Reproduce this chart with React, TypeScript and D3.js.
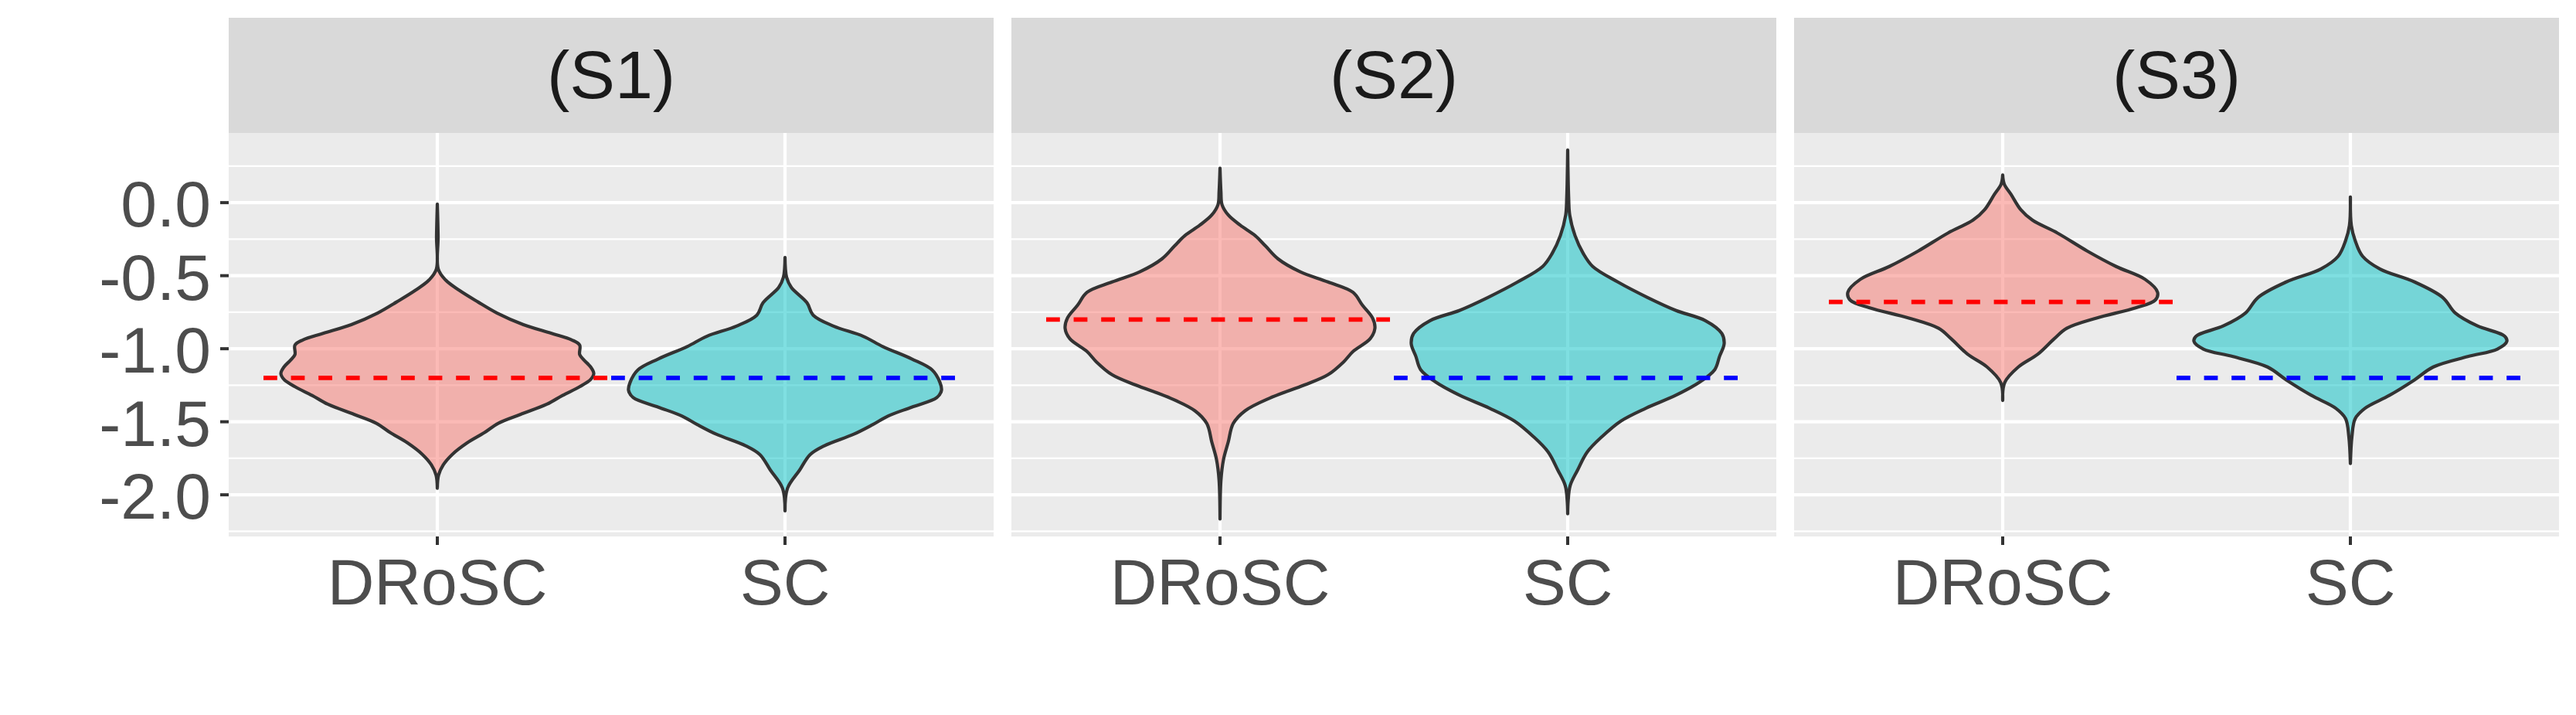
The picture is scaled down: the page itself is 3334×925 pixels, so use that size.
import React from "react";
import * as d3 from "d3";

// ---------- data ----------
const panels = ["(S1)", "(S2)", "(S3)"];
const methods = ["DRoSC", "SC"];
const yTicks = [0, -0.5, -1, -1.5, -2];
const yMinorTicks = [0.25, -0.25, -0.75, -1.25, -1.75, -2.25];
const yLimits = [-2.285, 0.477];

// reference (dashed) levels per panel
const droscRef = [-1.2, -0.8, -0.68];
const scRef = [-1.2, -1.2, -1.2];

// violin profiles: y values and relative half-widths (density scaled to max 1)
const s1DroscY = [-0.01, -0.23, -0.455, -0.53, -0.6, -0.68, -0.755, -0.835, -0.895, -0.94, -0.975, -1.04, -1.08, -1.125, -1.17, -1.21, -1.26, -1.32, -1.38, -1.45, -1.51, -1.575, -1.645, -1.725, -1.795, -1.865, -1.955];
const s1DroscW = [0, 0.005, 0.006, 0.053, 0.14, 0.26, 0.38, 0.55, 0.73, 0.86, 0.91, 0.91, 0.94, 0.98, 1.0, 0.98, 0.91, 0.8, 0.7, 0.53, 0.39, 0.3, 0.19, 0.094, 0.038, 0.008, 0];
const s1ScY = [-0.375, -0.51, -0.58, -0.685, -0.77, -0.845, -0.915, -0.985, -1.07, -1.145, -1.23, -1.285, -1.335, -1.4, -1.46, -1.52, -1.585, -1.665, -1.725, -1.83, -1.955, -2.11];
const s1ScW = [0, 0.01, 0.04, 0.14, 0.18, 0.31, 0.5, 0.625, 0.81, 0.94, 0.99, 1.0, 0.97, 0.81, 0.66, 0.56, 0.44, 0.25, 0.16, 0.094, 0.016, 0];
const s2DroscY = [0.236, 0.074, -0.014, -0.085, -0.155, -0.226, -0.296, -0.384, -0.472, -0.543, -0.614, -0.702, -0.79, -0.86, -0.931, -1.019, -1.09, -1.178, -1.248, -1.337, -1.425, -1.513, -1.637, -1.76, -1.9, -2.166];
const s2DroscW = [0, 0.006, 0.013, 0.053, 0.13, 0.225, 0.29, 0.37, 0.51, 0.69, 0.85, 0.91, 0.975, 0.99, 0.96, 0.85, 0.79, 0.69, 0.54, 0.32, 0.16, 0.084, 0.053, 0.022, 0.006, 0];
const s2ScY = [0.36, 0.039, -0.085, -0.226, -0.349, -0.437, -0.543, -0.649, -0.737, -0.808, -0.896, -0.966, -1.054, -1.143, -1.231, -1.319, -1.407, -1.495, -1.601, -1.707, -1.831, -1.936, -2.042, -2.13];
const s2ScW = [0, 0.006, 0.013, 0.047, 0.1, 0.16, 0.32, 0.51, 0.69, 0.88, 0.985, 1.0, 0.97, 0.94, 0.84, 0.69, 0.5, 0.34, 0.22, 0.125, 0.063, 0.016, 0.003, 0];
const s3DroscY = [0.189, 0.127, 0.057, -0.049, -0.12, -0.208, -0.331, -0.437, -0.525, -0.614, -0.667, -0.72, -0.79, -0.86, -0.931, -1.037, -1.125, -1.231, -1.354];
const s3DroscW = [0, 0.01, 0.053, 0.116, 0.19, 0.35, 0.54, 0.725, 0.91, 0.99, 0.975, 0.85, 0.6, 0.41, 0.33, 0.225, 0.1, 0.013, 0];
const s3ScY = [0.039, -0.155, -0.261, -0.367, -0.455, -0.543, -0.649, -0.755, -0.843, -0.913, -0.949, -1.002, -1.054, -1.125, -1.213, -1.319, -1.407, -1.478, -1.601, -1.786];
const s3ScW = [0, 0.006, 0.031, 0.078, 0.19, 0.41, 0.59, 0.67, 0.81, 0.985, 1.0, 0.94, 0.75, 0.53, 0.41, 0.25, 0.094, 0.031, 0.01, 0];

const violinY = [[s1DroscY, s1ScY], [s2DroscY, s2ScY], [s3DroscY, s3ScY]];
const violinW = [[s1DroscW, s1ScW], [s2DroscW, s2ScW], [s3DroscW, s3ScW]];
const refs = [droscRef, scRef];

const fills = ["#F8766D", "#00BFC4"];
const refColors = ["#FF0000", "#0000FF"];

// ---------- layout ----------
const W = 3334;
const H = 925;
const panelLeft = 296;
const panelW = 990;
const panelGap = 23;
const stripTop = 23;
const panelTop = 172;
const panelBottom = 694;
const font = "'Liberation Sans', Arial, Helvetica, sans-serif";

export default function App() {
  const y = d3.scaleLinear().domain(yLimits).range([panelBottom, panelTop]);
  const xBand = d3.scaleLinear().domain([0.4, 2.6]).range([0, panelW]);
  const unit = xBand(1) - xBand(0);
  const maxHalf = 0.45 * unit;

  return (
    <svg
      width={W}
      height={H}
      style={{ position: "absolute", left: 0, top: 0, display: "block", background: "#FFFFFF" }}
      fontFamily={font}
    >
      <rect x={0} y={0} width={W} height={H} fill="#FFFFFF" />
      {panels.map((label, pi) => {
        const px = panelLeft + pi * (panelW + panelGap);
        const cx = (i: number) => px + xBand(i + 1);
        return (
          <g key={label}>
            {/* strip */}
            <rect x={px} y={stripTop} width={panelW} height={panelTop - stripTop} fill="#D9D9D9" />
            <text x={px + panelW / 2} y={126.5} textAnchor="middle" fontSize={88} fill="#1A1A1A">
              {label}
            </text>
            {/* panel background */}
            <rect x={px} y={panelTop} width={panelW} height={panelBottom - panelTop} fill="#EBEBEB" />
            {yMinorTicks.map((t) => (
              <line key={"mn" + t} x1={px} x2={px + panelW} y1={y(t)} y2={y(t)} stroke="#FFFFFF" strokeWidth={2.2} />
            ))}
            {yTicks.map((t) => (
              <line key={"mj" + t} x1={px} x2={px + panelW} y1={y(t)} y2={y(t)} stroke="#FFFFFF" strokeWidth={4.2} />
            ))}
            {methods.map((m, mi) => (
              <line key={"vx" + m} x1={cx(mi)} x2={cx(mi)} y1={panelTop} y2={panelBottom} stroke="#FFFFFF" strokeWidth={4.2} />
            ))}
            {/* violins */}
            {methods.map((m, mi) => {
              const ys = violinY[pi][mi];
              const ws = violinW[pi][mi];
              const pts = ys.map((v, k) => ({ v, w: ws[k] }));
              const area = d3
                .area<{ v: number; w: number }>()
                .y((d) => y(d.v))
                .x0((d) => cx(mi) - d.w * maxHalf)
                .x1((d) => cx(mi) + d.w * maxHalf)
                .curve(d3.curveCatmullRom.alpha(0.5));
              return (
                <path
                  key={"vl" + m}
                  d={area(pts) || ""}
                  fill={fills[mi]}
                  fillOpacity={0.5}
                  stroke="#333333"
                  strokeWidth={4.2}
                  strokeLinejoin="round"
                />
              );
            })}
            {/* reference dashed segments */}
            {methods.map((m, mi) => (
              <line
                key={"rf" + m}
                x1={px + xBand(mi + 0.5)}
                x2={px + xBand(mi + 1.5)}
                y1={y(refs[mi][pi])}
                y2={y(refs[mi][pi])}
                stroke={refColors[mi]}
                strokeWidth={5.8}
                strokeDasharray="17.8 17.8"
              />
            ))}
            {/* x ticks + labels */}
            {methods.map((m, mi) => (
              <g key={"xt" + m}>
                <line x1={cx(mi)} x2={cx(mi)} y1={panelBottom} y2={panelBottom + 11} stroke="#333333" strokeWidth={4} />
                <text x={cx(mi)} y={782} textAnchor="middle" fontSize={84} fill="#4D4D4D">
                  {m}
                </text>
              </g>
            ))}
          </g>
        );
      })}
      {/* y axis on first panel */}
      {yTicks.map((t) => (
        <g key={"yt" + t}>
          <line x1={panelLeft - 11} x2={panelLeft} y1={y(t)} y2={y(t)} stroke="#333333" strokeWidth={4} />
          <text x={273} y={y(t) + 31} textAnchor="end" fontSize={84} fill="#4D4D4D">
            {d3.format(".1f")(t).replace("−", "-")}
          </text>
        </g>
      ))}
    </svg>
  );
}
